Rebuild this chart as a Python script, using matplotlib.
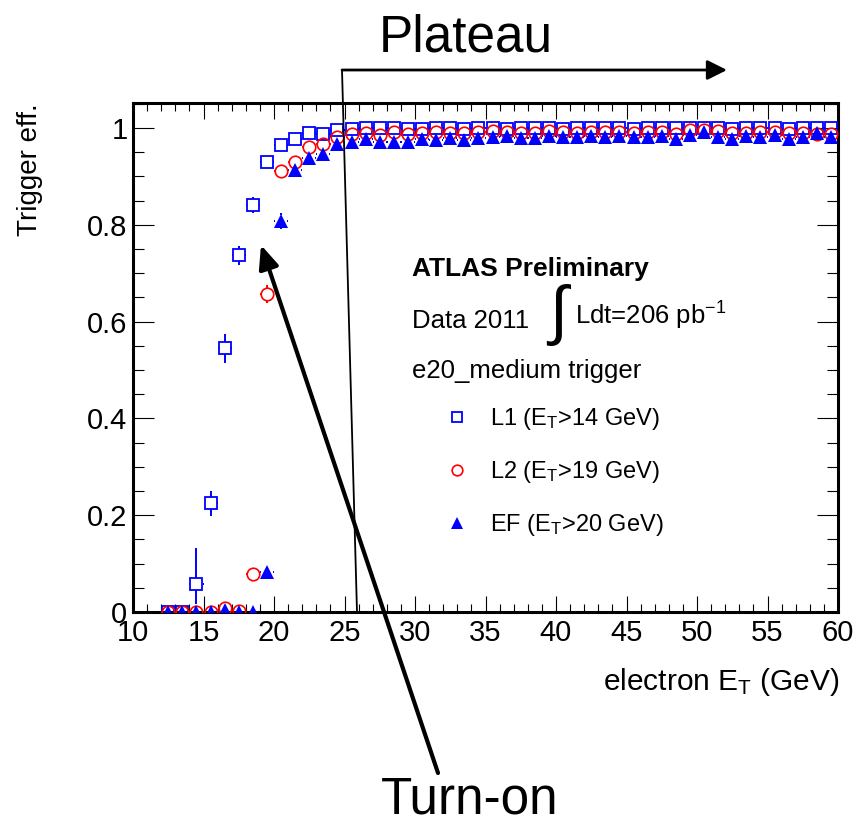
import numpy as np
import matplotlib
matplotlib.use("Agg")
import matplotlib.pyplot as plt
from matplotlib.patches import FancyArrowPatch
from matplotlib.lines import Line2D

plt.rcParams['font.family'] = ['Liberation Sans', 'DejaVu Sans']
plt.rcParams['mathtext.fontset'] = 'custom'
plt.rcParams['mathtext.rm'] = 'Liberation Sans'
plt.rcParams['mathtext.it'] = 'Liberation Sans:italic'
plt.rcParams['mathtext.bf'] = 'Liberation Sans:bold'

# bin centres (1 GeV bins)
et = np.arange(12.5, 60.0, 1.0)

l1_eff = [0.0, 0.0, 0.057, 0.225, 0.545, 0.737, 0.841, 0.930, 0.965, 0.977,
          0.990, 0.987, 0.996, 0.998, 1.0, 1.0, 1.0, 0.997, 0.997,
          1.0, 1.0, 0.999, 1.0, 1.0, 0.999, 1.0, 1.0, 1.0, 0.999,
          1.0, 1.0, 1.0, 1.0, 0.999, 1.0, 1.0, 1.0, 1.0, 1.0,
          1.0, 0.999, 1.0, 1.0, 1.0, 0.999, 1.0, 1.0, 1.0]
l1_err_hi = [0.003, 0.003, 0.075, 0.026, 0.03, 0.019, 0.016, 0.008, 0.006] + [0.003] * 39
l1_err_lo = [0.003, 0.003, 0.04, 0.026, 0.03, 0.019, 0.016, 0.008, 0.006] + [0.003] * 39

l2_eff = [0.0, 0.0, 0.0, 0.0, 0.008, 0.003, 0.078, 0.657,
          0.912, 0.930, 0.961, 0.968, 0.982, 0.987, 0.990, 0.985, 0.991,
          0.988, 0.990, 0.991, 0.990, 0.990, 0.991, 0.993, 0.992, 0.990, 0.990,
          0.993, 0.991, 0.990, 0.991, 0.992, 0.991, 0.990, 0.991, 0.992, 0.988,
          0.995, 0.996, 0.993, 0.989, 0.990, 0.991, 0.992, 0.989, 0.990, 0.987,
          0.988]
l2_err = [0.003] * 6 + [0.012, 0.018, 0.01, 0.008] + [0.003] * 38

ef_eff = [0.0, 0.0, 0.0, 0.0, 0.005, 0.0, 0.0, 0.083,
          0.808, 0.913, 0.939, 0.946, 0.968, 0.972, 0.978, 0.972, 0.972,
          0.972, 0.977, 0.975, 0.979, 0.975, 0.979, 0.982, 0.984, 0.979, 0.979,
          0.984, 0.982, 0.982, 0.984, 0.982, 0.984, 0.982, 0.982, 0.984, 0.977,
          0.986, 0.992, 0.982, 0.977, 0.984, 0.982, 0.986, 0.977, 0.982, 0.990,
          0.981]
ef_err = [0.003] * 7 + [0.012, 0.016, 0.01] + [0.003] * 38

W, H = 859, 826


def fx(x):
    return x / W


def fy(y):
    return 1 - y / H


fig = plt.figure(figsize=(W / 100, H / 100), dpi=100)
ax = fig.add_axes([fx(133), fy(612), fx(838) - fx(133), fy(103) - fy(612)])
ax.set_xlim(10, 60)
ax.set_ylim(0, 1.0517)

# marker half size in data units (about 6 px)
half_x, half_y = 0.43, 0.0124


def draw_errors(y, lo, hi, color):
    y, lo, hi = np.asarray(y), np.asarray(lo), np.asarray(hi)
    ax.hlines(y, et - 0.5, et - half_x, color=color, lw=1.4, zorder=2)
    ax.hlines(y, et + half_x, et + 0.5, color=color, lw=1.4, zorder=2)
    up = hi > half_y
    ax.vlines(et[up], y[up] + half_y, y[up] + hi[up], color=color, lw=1.4, zorder=2)
    dn = lo > half_y
    ax.vlines(et[dn], y[dn] - half_y, y[dn] - lo[dn], color=color, lw=1.4, zorder=2)


draw_errors(l1_eff, l1_err_lo, l1_err_hi, 'blue')
draw_errors(l2_eff, l2_err, l2_err, 'red')
draw_errors(ef_eff, ef_err, ef_err, 'blue')

ax.plot(et, l1_eff, 's', ms=8.4, mfc='none', mec='blue', mew=1.3,
        label=r'L1 (E$_{\mathrm{T}}$>14 GeV)', zorder=3)
ax.plot(et, l2_eff, 'o', ms=9.0, mfc='none', mec='red', mew=1.2,
        label=r'L2 (E$_{\mathrm{T}}$>19 GeV)', zorder=3)
ax.plot(et, ef_eff, '^', ms=10, color='blue', mew=0,
        label=r'EF (E$_{\mathrm{T}}$>20 GeV)', zorder=4)

# axes styling (ROOT look)
ax.set_xticks(np.arange(10, 61, 5))
ax.set_xticks(np.arange(10, 61, 1), minor=True)
ax.set_yticks([0, 0.2, 0.4, 0.6, 0.8, 1.0])
ax.set_yticklabels(['0', '0.2', '0.4', '0.6', '0.8', '1'])
ax.set_yticks(np.arange(0, 1.051, 0.05), minor=True)
ax.tick_params(which='both', direction='in', top=True, right=True,
               labelsize=21, width=0.8, color='black')
ax.tick_params(axis='x', which='major', length=11.5, pad=5)
ax.tick_params(axis='x', which='minor', length=5.5)
ax.tick_params(axis='y', which='major', length=15, pad=4)
ax.tick_params(axis='y', which='minor', length=8)
for s in ax.spines.values():
    s.set_linewidth(2.2)

fig.text(fx(30), fy(103), 'Trigger eff.', rotation=90, ha='center', va='top', fontsize=20)
fig.text(fx(840), fy(690), r'electron E$_{\mathrm{T}}$ (GeV)', ha='right', va='baseline',
         fontsize=21.5)

# ATLAS label block
fig.text(fx(412), fy(276), 'ATLAS Preliminary', fontsize=19, fontweight='bold', va='baseline')
fig.text(fx(412), fy(328), 'Data 2011', fontsize=18.5, va='baseline')
fig.text(fx(558), fy(315), '\u222b', fontsize=47, ha='center', va='center')
fig.text(fx(575), fy(325), r'Ldt=206 pb$^{-1}$', fontsize=18.5, va='baseline')
fig.text(fx(412), fy(378), 'e20_medium trigger', fontsize=18.5, va='baseline')

ax.legend(loc='upper left', bbox_to_anchor=(fx(445), fy(406)), bbox_transform=fig.transFigure,
          frameon=False, fontsize=17, handlelength=1.0, handletextpad=0.9,
          labelspacing=1.15, borderpad=0, borderaxespad=0, markerscale=0.85)

# annotations outside the frame
fig.add_artist(Line2D([fx(342), fx(357)], [fy(70), fy(612)], color='black', lw=1.3))
fig.add_artist(FancyArrowPatch((fx(342), fy(70)), (fx(727), fy(70)), transform=fig.transFigure,
                               arrowstyle='-|>,head_length=1.2,head_width=0.6', mutation_scale=10,
                               color='black', lw=2.0, shrinkA=0, shrinkB=0))
fig.text(fx(466), fy(52), 'Plateau', fontsize=37, ha='center', va='baseline')

fig.add_artist(FancyArrowPatch((fx(438), fy(773)), (fx(261), fy(245)), transform=fig.transFigure,
                               arrowstyle='-|>,head_length=1.4,head_width=0.6', mutation_scale=10,
                               color='black', lw=3.0, shrinkA=0, shrinkB=0))
fig.text(fx(470), fy(813), 'Turn-on', fontsize=37, ha='center', va='baseline')

fig.savefig('out.png', dpi=100)
